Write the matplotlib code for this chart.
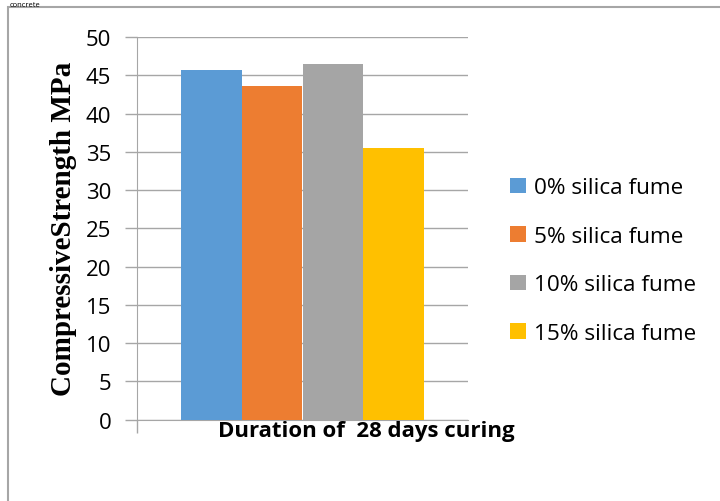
import matplotlib.pyplot as plt
from matplotlib.patches import Rectangle

# data
series = ['0% silica fume', '5% silica fume', '10% silica fume', '15% silica fume']
strength = [45.7, 43.6, 46.5, 35.5]
colors = ['#5b9bd5', '#ed7d31', '#a5a5a5', '#ffc000']
yticks = list(range(0, 55, 5))

fig = plt.figure(figsize=(7.2, 5.02), dpi=100)
ax = fig.add_axes([137 / 720, 1 - 420.7 / 502, 331 / 720, (420.7 - 38) / 502])

# outer frame of the chart area
fig.patches.append(Rectangle((8 / 720, -0.1), 1.0, 1 - 8 / 502 + 0.1,
                             transform=fig.transFigure, fill=False,
                             edgecolor='#a6a6a6', linewidth=1.5))

w = 0.183
for i, (name, val, c) in enumerate(zip(series, strength, colors)):
    ax.bar(0.5 + (i - 1.5) * w, val, width=w, color=c, label=name, zorder=3)

ax.set_xlim(0, 1)
ax.set_ylim(0, 50)
ax.set_yticks(yticks)
ax.set_xticks([0])
ax.set_xticklabels([''])
ax.tick_params(axis='x', direction='out', length=9, color='#a6a6a6', width=1)
ax.tick_params(axis='y', direction='out', length=9, color='#a6a6a6', width=1,
               labelsize=16, pad=9.5)
for lab in ax.get_yticklabels():
    lab.set_family('Open Sans')
ax.grid(axis='y', color='#a6a6a6', linewidth=1, zorder=0)
for s in ['top', 'right']:
    ax.spines[s].set_visible(False)
ax.spines['left'].set_color('#a6a6a6')
ax.spines['bottom'].set_color('#a6a6a6')

ax.set_ylabel('CompressiveStrength MPa', family='Liberation Serif',
              fontweight='bold', fontsize=21, labelpad=6)
fig.text(366 / 720, 1 - 432 / 502, 'Duration of  28 days curing',
         family='Open Sans', fontweight='bold', fontsize=16,
         ha='center', va='center')

ax.legend(loc='upper left', bbox_to_anchor=(1.067, 0.686), frameon=False,
          prop={'family': 'Open Sans', 'size': 16.2}, handlelength=0.7,
          handleheight=0.7, handletextpad=0.35, labelspacing=1.22)

fig.text(10 / 720, 1 - 7 / 502, 'concrete', family='Open Sans', fontsize=5.5,
         va='baseline')

fig.savefig('out.png', dpi=100)
